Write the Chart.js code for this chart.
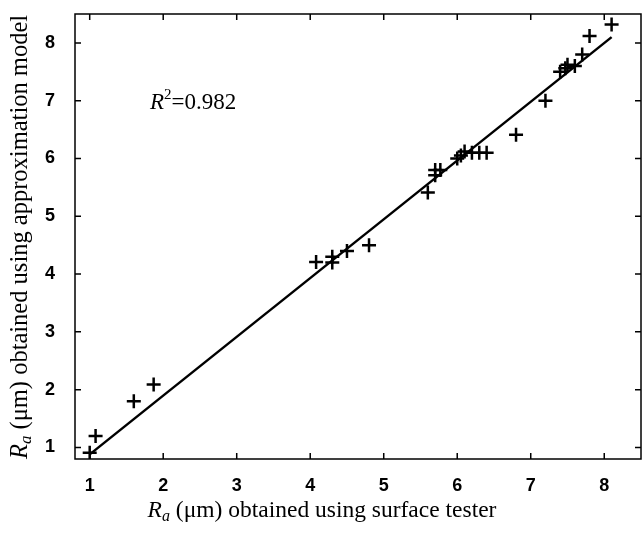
<!DOCTYPE html>
<html>
<head>
<meta charset="utf-8">
<script src="https://cdn.jsdelivr.net/npm/chart.js@4.4.0/dist/chart.umd.min.js"></script>
<style>
  body { margin: 0; background: #fff; }
</style>
</head>
<body>
<canvas id="myChart" width="643" height="533"></canvas>
<script>
// Ra measured by surface tester vs Ra from approximation model
var measured = [1.0, 1.08, 1.6, 1.87, 4.08, 4.3, 4.3, 4.5, 4.8, 5.6, 5.7, 5.7, 5.77, 6.0, 6.05, 6.1, 6.2, 6.3, 6.4, 6.8, 7.2, 7.4, 7.47, 7.5, 7.6, 7.7, 7.8, 8.1];
var predicted = [0.91, 1.2, 1.8, 2.09, 4.21, 4.2, 4.3, 4.4, 4.5, 5.41, 5.71, 5.8, 5.8, 6.0, 6.05, 6.12, 6.1, 6.1, 6.1, 6.41, 7.0, 7.5, 7.56, 7.62, 7.6, 7.8, 8.12, 8.32];
var fitX = [1.0, 8.1];
var fitY = [0.88, 8.1];
var tickValues = [1, 2, 3, 4, 5, 6, 7, 8];
var r2Value = "0.982";

var serif = '"Liberation Serif", "Times New Roman", serif';

function drawRuns(ctx, runs, x, y, align) {
    var total = 0;
    runs.forEach(function (r) {
        ctx.font = r.font;
        r.w = ctx.measureText(r.text).width;
        total += r.w;
    });
    var cx = align === 'center' ? x - total / 2 : x;
    ctx.textAlign = 'left';
    ctx.textBaseline = 'alphabetic';
    runs.forEach(function (r) {
        ctx.font = r.font;
        ctx.fillText(r.text, cx, y + (r.dy || 0));
        cx += r.w;
    });
}

var framePlugin = {
    id: 'frame',
    afterDraw: function (chart) {
        var ctx = chart.ctx;
        var a = chart.chartArea;
        var xs = chart.scales.x;
        var ys = chart.scales.y;
        ctx.save();
        ctx.strokeStyle = '#000';
        ctx.lineWidth = 1.5;
        ctx.strokeRect(a.left, a.top, a.right - a.left, a.bottom - a.top);

        // inward ticks on all four sides
        ctx.beginPath();
        tickValues.forEach(function (v) {
            var px = xs.getPixelForValue(v);
            ctx.moveTo(px, a.bottom); ctx.lineTo(px, a.bottom - 6);
            ctx.moveTo(px, a.top); ctx.lineTo(px, a.top + 6);
            var py = ys.getPixelForValue(v);
            ctx.moveTo(a.left, py); ctx.lineTo(a.left + 6, py);
            ctx.moveTo(a.right, py); ctx.lineTo(a.right - 6, py);
        });
        ctx.stroke();

        ctx.fillStyle = '#000';
        // x axis title
        drawRuns(ctx, [
            { text: 'R', font: 'italic 23.5px ' + serif },
            { text: 'a', font: 'italic 16px ' + serif, dy: 4 },
            { text: ' (\u03bcm) obtained using surface tester', font: '23.5px ' + serif }
        ], 322, 517, 'center');

        // y axis title
        ctx.save();
        ctx.translate(27, 237);
        ctx.rotate(-Math.PI / 2);
        drawRuns(ctx, [
            { text: 'R', font: 'italic 24.5px ' + serif },
            { text: 'a', font: 'italic 17px ' + serif, dy: 4 },
            { text: ' (\u03bcm) obtained using approximation model', font: '24.5px ' + serif }
        ], 0, 0, 'center');
        ctx.restore();

        // R^2 annotation
        drawRuns(ctx, [
            { text: 'R', font: 'italic 23px ' + serif },
            { text: '2', font: '15px ' + serif, dy: -10 },
            { text: '=' + r2Value, font: '23px ' + serif }
        ], 150, 109, 'left');
        ctx.restore();
    }
};

var ctx = document.getElementById('myChart').getContext('2d');
var myChart = new Chart(ctx, {
    type: 'scatter',
    data: {
        datasets: [{
            label: 'Samples',
            data: measured.map(function (v, i) { return { x: v, y: predicted[i] }; }),
            pointStyle: 'cross',
            pointRadius: 7,
            borderWidth: 2.5,
            borderColor: '#000',
            backgroundColor: '#000'
        }, {
            label: 'Fit',
            type: 'line',
            data: fitX.map(function (v, i) { return { x: v, y: fitY[i] }; }),
            borderColor: '#000',
            borderWidth: 2.5,
            pointRadius: 0,
            fill: false
        }]
    },
    options: {
        responsive: false,
        animation: false,
        devicePixelRatio: 1,
        layout: { autoPadding: false, padding: { top: 14, right: 2, left: 0, bottom: 0 } },
        plugins: {
            legend: { display: false },
            tooltip: { enabled: false }
        },
        scales: {
            x: {
                type: 'linear',
                min: 0.8,
                max: 8.5,
                grid: { display: false },
                border: { display: false },
                afterBuildTicks: function (s) {
                    s.ticks = tickValues.map(function (v) { return { value: v }; });
                },
                afterFit: function (s) {
                    s.height = 74;
                    s.paddingLeft = 0;
                    s.paddingRight = 0;
                },
                ticks: {
                    padding: 8,
                    color: '#000',
                    font: { family: '"Liberation Sans", Arial, sans-serif', size: 18, weight: 'bold' }
                }
            },
            y: {
                type: 'linear',
                min: 0.8,
                max: 8.5,
                grid: { display: false },
                border: { display: false },
                afterBuildTicks: function (s) {
                    s.ticks = tickValues.map(function (v) { return { value: v }; });
                },
                afterFit: function (s) {
                    s.width = 75;
                    s.paddingTop = 0;
                    s.paddingBottom = 0;
                },
                ticks: {
                    padding: 12,
                    color: '#000',
                    font: { family: '"Liberation Sans", Arial, sans-serif', size: 18, weight: 'bold' }
                }
            }
        }
    },
    plugins: [framePlugin]
});
</script>
</body>
</html>
